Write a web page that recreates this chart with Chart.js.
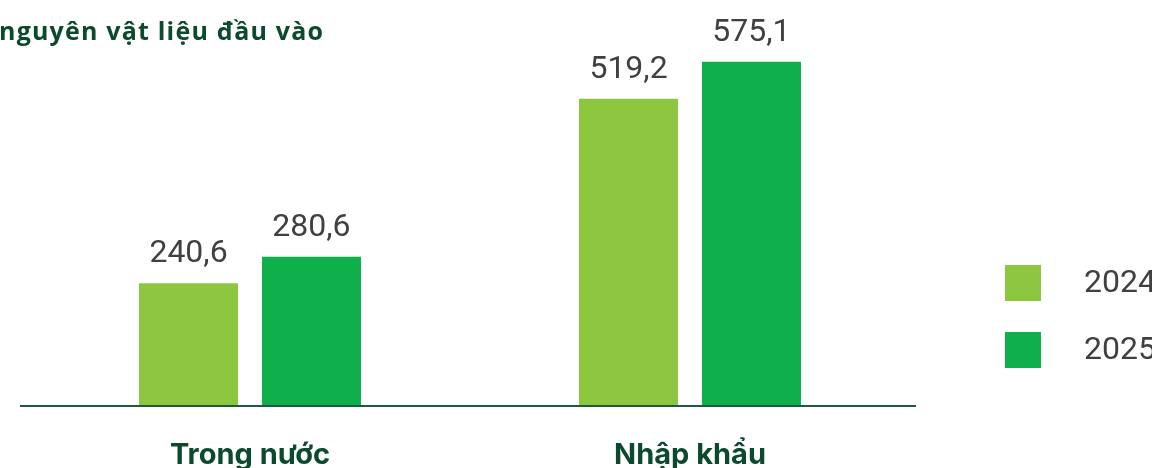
<!DOCTYPE html>
<html>
<head>
<meta charset="utf-8">
<script src="https://cdn.jsdelivr.net/npm/chart.js@4/dist/chart.umd.min.js"></script>
<style>
html,body{margin:0;padding:0;background:#fff;overflow:hidden}
#wrap{position:relative;width:1152px;height:468px}
</style>
</head>
<body>
<div id="wrap"><canvas id="c"></canvas></div>
<script>
const categories = ['Trong nước', 'Nhập khẩu'];
const seriesLabels = ['2024', '2025'];
const values2024 = [240.6, 519.2];
const values2025 = [280.6, 575.1];
const seriesColors = ['#8DC63F', '#0FAF4B'];
const titleText = 'nguyên vật liệu đầu vào';

const fmt = v => v.toFixed(1).replace('.', ',');

const customDraw = {
  id: 'customDraw',
  afterDatasetsDraw(chart) {
    const ctx = chart.ctx;
    const area = chart.chartArea;
    ctx.save();
    // baseline axis
    ctx.strokeStyle = '#1C5A45';
    ctx.lineWidth = 2;
    ctx.beginPath();
    ctx.moveTo(area.left - 10, area.bottom);
    ctx.lineTo(area.right + 6, area.bottom);
    ctx.stroke();
    // value labels
    ctx.fillStyle = '#404040';
    ctx.font = '32px Roboto';
    ctx.textAlign = 'center';
    ctx.textBaseline = 'alphabetic';
    chart.data.datasets.forEach((ds, di) => {
      const meta = chart.getDatasetMeta(di);
      meta.data.forEach((bar, i) => {
        ctx.fillText(fmt(ds.data[i]), bar.x, bar.y - 21);
      });
    });
    // title
    ctx.fillStyle = '#0B4A2C';
    ctx.font = 'bold 25px "Open Sans"';
    ctx.textAlign = 'left';
    if ('letterSpacing' in ctx) ctx.letterSpacing = '1.2px';
    ctx.fillText(titleText, -1, 40);
    if ('letterSpacing' in ctx) ctx.letterSpacing = '0px';
    // legend
    chart.data.datasets.forEach((ds, di) => {
      const y = 265 + di * 67;
      ctx.fillStyle = ds.backgroundColor;
      ctx.fillRect(1005, y, 36, 36);
      ctx.fillStyle = '#404040';
      ctx.font = '32px Roboto';
      ctx.textBaseline = 'middle';
      ctx.fillText(ds.label, 1084, y + 19);
    });
    ctx.restore();
  }
};

new Chart(document.getElementById('c'), {
  type: 'bar',
  data: {
    labels: categories,
    datasets: [
      { label: seriesLabels[0], data: values2024, backgroundColor: seriesColors[0] },
      { label: seriesLabels[1], data: values2025, backgroundColor: seriesColors[1] }
    ]
  },
  options: {
    responsive: true,
    maintainAspectRatio: false,
    animation: false,
    events: [],
    layout: { padding: { left: 30, right: 242, top: 40, bottom: 0 } },
    categoryPercentage: 0.559,
    barPercentage: 0.805,
    plugins: { legend: { display: false }, title: { display: false }, tooltip: { enabled: false } },
    scales: {
      y: { display: false, min: 55, max: 608 },
      x: {
        grid: { display: false, drawTicks: false },
        border: { display: false },
        ticks: { color: '#0B4A2C', font: { family: 'Inter', size: 29, weight: 'bold' }, padding: 32 },
        afterFit(s) { s.height = 62; }
      }
    }
  },
  plugins: [customDraw]
});
</script>
</body>
</html>
